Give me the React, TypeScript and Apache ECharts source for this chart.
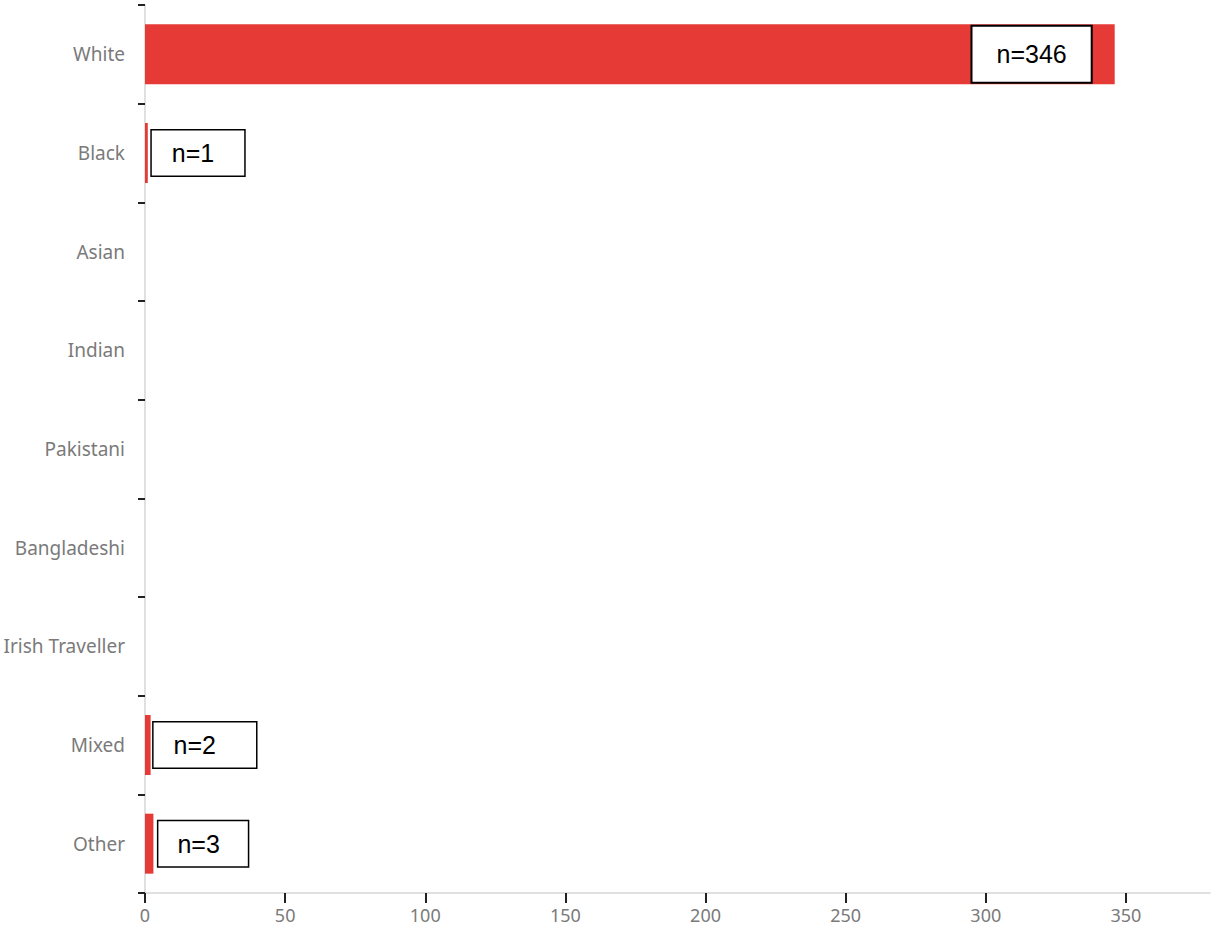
import React, { useEffect, useRef } from "react";
import * as echarts from "echarts";

const categories = ["White", "Black", "Asian", "Indian", "Pakistani", "Bangladeshi", "Irish Traveller", "Mixed", "Other"];
const counts = [346, 1, 0, 0, 0, 0, 0, 2, 3];
const xTicks = [0, 50, 100, 150, 200, 250, 300, 350];

// label box styling per category (layout only)
const boxStyle: Record<string, any> = {
  White: { position: "insideRight", distance: 24, padding: [15, 24, 15, 24], borderWidth: 2 },
  Black: { position: "right", distance: 4, padding: [10, 30, 10, 20] },
  Mixed: { position: "right", distance: 3, padding: [10, 40, 10, 20] },
  Other: { position: "right", distance: 5, padding: [10, 28, 10, 19] },
};

export default function App() {
  const ref = useRef<HTMLDivElement>(null);
  useEffect(() => {
    const chart = echarts.init(ref.current!, null, { renderer: "svg" });
    const boxBase = {
      show: true,
      color: "#000",
      fontFamily: "Liberation Sans, Arial, sans-serif",
      fontSize: 25,
      lineHeight: 25,
      backgroundColor: "#fff",
      borderColor: "#000",
      borderWidth: 1.5,
      formatter: (p: any) => "n=" + p.value,
    };
    const data = counts.map((v, i) => {
      const st = boxStyle[categories[i]];
      if (!v || !st) return { value: v, label: { show: false } };
      return { value: v, label: { ...boxBase, ...st } };
    });
    chart.setOption({
      animation: false,
      grid: { left: 145, right: 1, top: 5, bottom: 38, containLabel: false },
      xAxis: {
        type: "value",
        min: 0,
        max: 380,
        interval: 50,
        splitLine: { show: false },
        axisLine: { show: true, lineStyle: { color: "#d6d6d6", width: 1.5 } },
        axisTick: { show: true, length: 10, lineStyle: { color: "#222", width: 2 }, customValues: xTicks },
        axisLabel: { color: "#7a7a7a", fontSize: 18, fontFamily: "Noto Sans", margin: 13, customValues: xTicks },
      },
      yAxis: {
        type: "category",
        inverse: true,
        data: categories,
        axisLine: { show: true, lineStyle: { color: "#d6d6d6", width: 1.5 } },
        axisTick: { show: true, length: 7, lineStyle: { color: "#222", width: 2 } },
        axisLabel: { color: "#7a7a7a", fontSize: 19, fontFamily: "Noto Sans", margin: 20 },
      },
      series: [
        {
          type: "bar",
          data,
          barWidth: 60,
          itemStyle: { color: "#e53a36" },
        },
      ],
    });
    return () => chart.dispose();
  }, []);
  return <div ref={ref} style={{ width: 1211, height: 931, position: "absolute", left: 0, top: 0 }} />;
}
